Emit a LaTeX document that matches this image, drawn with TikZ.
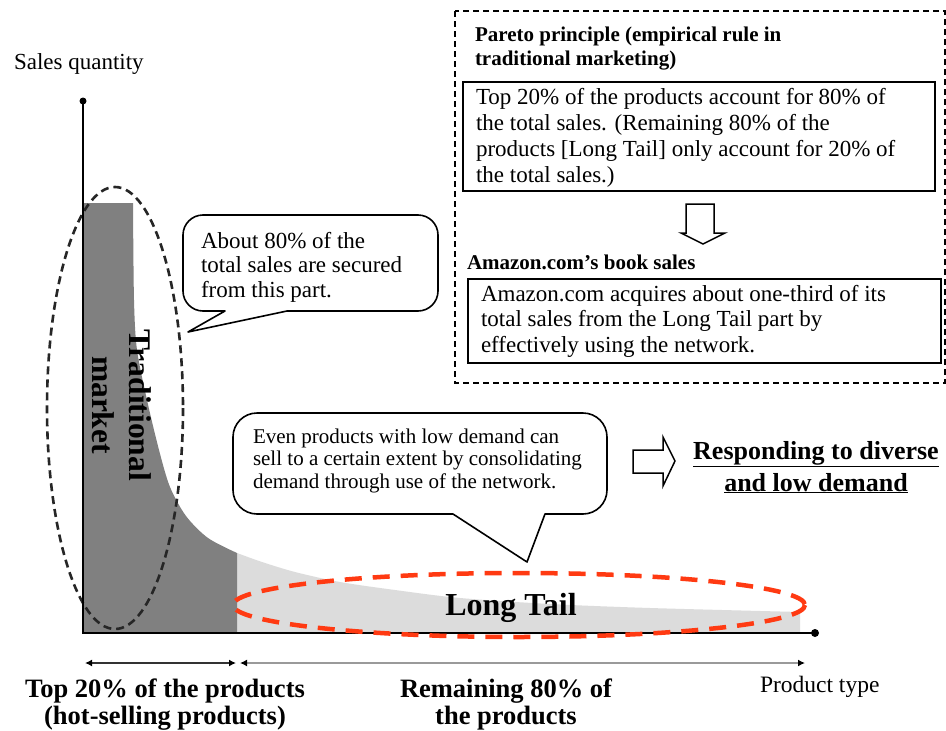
\documentclass[tikz,border=0pt]{standalone}
\usepackage{fontspec}
\setmainfont{Liberation Serif}
\usetikzlibrary{arrows.meta}
\definecolor{headgray}{HTML}{808080}
\definecolor{tailgray}{HTML}{DCDCDC}
\definecolor{tailred}{HTML}{FF3A12}
\definecolor{spangray}{HTML}{9A9A9A}
\newcommand\fsz[2]{\fontsize{#1}{#2}\selectfont}
% multi-line nodes are placed by the baseline of their last line
\tikzset{
  txt/.style={inner sep=0pt, outer sep=0pt},
  lefttxt/.style={txt, anchor=base west, align=left},
  ctrtxt/.style={txt, anchor=base, align=center},
  bubble/.style={draw=black, fill=white, line width=1.6pt, line join=round},
  framebox/.style={draw=black, line width=1.6pt},
  hollowarrow/.style={draw=black, fill=white, line width=1.5pt, line join=miter}
}
\begin{document}
\begin{tikzpicture}[x=1pt,y=-1pt]
\useasboundingbox (0,0) rectangle (946,731);
\fill[white] (0,0) rectangle (946,731);

% ---------- sales curve ----------
\fill[tailgray] (237,633) -- plot[smooth] coordinates {(237,553) (262,562) (295,572) (340,582) (395,590) (460,598) (550,604) (650,608) (800,612)} -- (800,633) -- cycle;
\fill[headgray] (83,633) -- (83,203) -- plot[smooth] coordinates {(133,203) (134,300) (137,350) (147,400) (159,450) (170,487) (186,516) (208,538) (237,553)} -- (237,633) -- cycle;

% head of the distribution
\draw[line width=2.6pt, black!85, dash pattern=on 8pt off 5pt] (115,408) ellipse [x radius=68, y radius=221];

% axes
\coordinate (ytop) at (83,101);
\coordinate (origin) at (83,633);
\coordinate (xend) at (815,633);
\draw[line width=2pt] (ytop) -- (origin) -- (xend);
\fill (ytop) circle (3.5);
\fill (xend) circle (4);

% long tail region
\draw[line width=4.5pt, tailred, dash pattern=on 17pt off 11pt] (519,605) ellipse [x radius=286, y radius=32];
\node[ctrtxt, font=\fsz{32}{34}\bfseries] (longtail) at (511,615) {Long Tail};

\node[txt, rotate=-90, align=center, font=\fsz{31.5}{37}\bfseries] (tradmkt) at (122,405) {Traditional\\market};

\node[lefttxt, font=\fsz{23}{25}] (yaxislabel) at (14,69) {Sales quantity};

% ---------- callouts ----------
\draw[bubble] (225,311) -- (188,332) -- (287,311) -- (418,311) arc[start angle=90,end angle=0,radius=20] -- (438,235) arc[start angle=0,end angle=-90,radius=20] -- (203,215) arc[start angle=270,end angle=180,radius=20] -- (183,291) arc[start angle=180,end angle=90,radius=20] -- cycle;
\node[lefttxt, font=\fsz{23}{24.5}] (headnote) at (201,297) {About 80\% of the\\total sales are secured\\from this part.};

\draw[bubble] (453,514) -- (527,562) -- (545,514) -- (583,514) arc[start angle=90,end angle=0,radius=24] -- (607,437) arc[start angle=0,end angle=-90,radius=24] -- (257,413) arc[start angle=270,end angle=180,radius=24] -- (233,490) arc[start angle=180,end angle=90,radius=24] -- cycle;
\node[lefttxt, font=\fsz{21}{22.5}] (tailnote) at (253,488) {Even products with low demand can\\sell to a certain extent by consolidating\\demand through use of the network.};

% arrow to the conclusion
\draw[hollowarrow] (633,450) -- (663,450) -- (663,437) -- (675,461) -- (663,486) -- (663,473) -- (633,473) -- cycle;
\node[ctrtxt, font=\fsz{26}{32}\bfseries] (respond) at (816,491) {\underline{Responding to diverse}\\\underline{and low demand}};

% ---------- Pareto panel ----------
\draw[line width=1.5pt, dash pattern=on 6pt off 4pt] (455,11) rectangle (945,383);
\node[lefttxt, font=\fsz{21}{24.5}\bfseries] (paretohead) at (475,65.5) {Pareto principle (empirical rule in\\traditional marketing)};
\draw[framebox] (463,82) rectangle (935,191);
\node[lefttxt, font=\fsz{23}{25.7}] (paretotext) at (476,182) {Top 20\% of the products account for 80\% of\\the total sales. (Remaining 80\% of the\\products [Long Tail] only account for 20\% of\\the total sales.)};
\draw[hollowarrow] (686,204) -- (714,204) -- (714,233) -- (725,233) -- (703,244) -- (681,233) -- (686,233) -- cycle;
\node[lefttxt, font=\fsz{21}{24.5}\bfseries] (amazonhead) at (467,269) {Amazon.com’s book sales};
\draw[framebox] (468,279) rectangle (941,363);
\node[lefttxt, font=\fsz{23}{25.2}] (amazontext) at (481,352) {Amazon.com acquires about one-third of its\\total sales from the Long Tail part by\\effectively using the network.};

% ---------- product spans ----------
\coordinate (topL) at (85,663);
\coordinate (topR) at (236,663);
\coordinate (restL) at (240,663);
\coordinate (restR) at (805,663);
\draw[line width=2pt, black!80, {Latex[length=7pt,width=7pt,color=black]}-{Latex[length=7pt,width=7pt,color=black]}] (topL) -- (topR);
\draw[line width=2pt, spangray, {Latex[length=7pt,width=7pt,color=black]}-{Latex[length=7pt,width=7pt,color=black]}] (restL) -- (restR);
\node[ctrtxt, font=\fsz{26.5}{27}\bfseries] (toplabel) at (165,724) {Top 20\% of the products\\(hot-selling products)};
\node[ctrtxt, font=\fsz{26.5}{27}\bfseries] (restlabel) at (506,724) {Remaining 80\% of\\the products};
\node[lefttxt, font=\fsz{23.5}{25}] (xaxislabel) at (760,692) {Product type};
\end{tikzpicture}
\end{document}
